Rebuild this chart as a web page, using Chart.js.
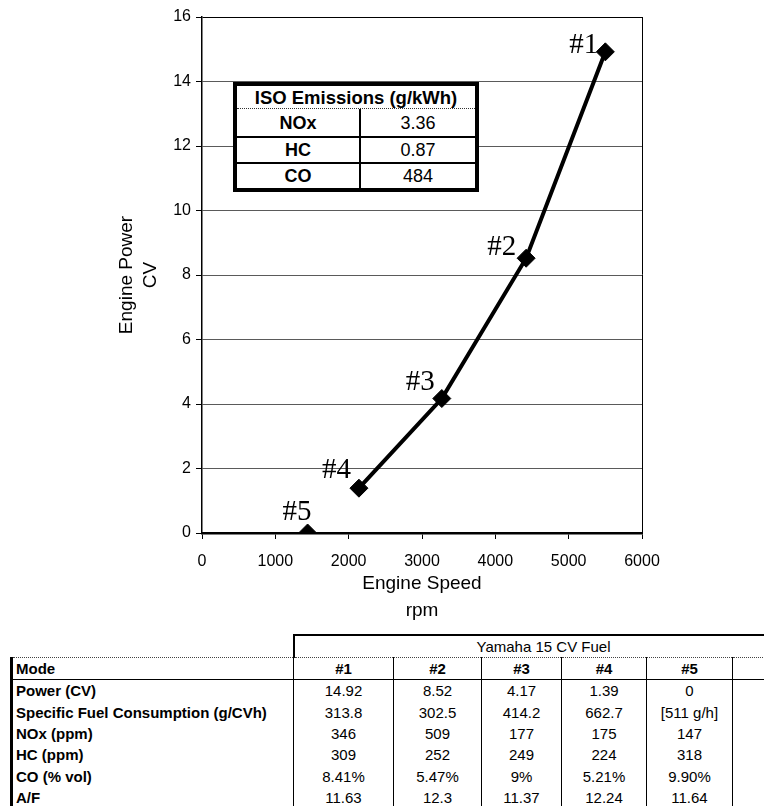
<!DOCTYPE html>
<html>
<head>
<meta charset="utf-8">
<title>Yamaha 15 CV – Engine Power vs Engine Speed</title>
<script src="https://cdn.jsdelivr.net/npm/chart.js@4.4.1/dist/chart.umd.min.js"></script>
<style>
  html, body { margin: 0; padding: 0; background: #fff; }
  #page { position: relative; width: 764px; height: 806px; overflow: hidden;
          font-family: "Liberation Sans", Arial, sans-serif; color: #000; }
  #chartBox { position: absolute; left: 0; top: 0; width: 764px; height: 630px; }

  /* ISO emissions inset */
  #iso { position: absolute; left: 233px; top: 82px; width: 246px; height: 110px;
         box-sizing: border-box; border: 4px solid #000; background: #fff; }
  #iso .head { height: 22px; line-height: 23px; border-bottom: 1px dotted #333;
               text-align: center; font-weight: bold; font-size: 18.5px; }
  #iso .row { display: flex; height: 24px; border-top: 2px solid #000; }
  #iso .row.first { height: 27px; border-top: none; }
  #iso .row div { text-align: center; font-size: 18px; line-height: 25px; }
  #iso .row.first div { line-height: 28px; }
  #iso .row .name { width: 122px; border-right: 2px solid #000; font-weight: bold; }
  #iso .row .val { flex: 1; }

  /* modes table */
  #modes { position: absolute; left: 10px; top: 634px; width: 781px; border-collapse: collapse;
           table-layout: fixed; font-size: 15px; }
  #modes td { padding: 0; text-align: center; white-space: nowrap; overflow: visible; }
  #modes tr.fuel td { height: 21px; }
  #modes tr.fuel td.title { border-top: 2px solid #000; border-left: 2px solid #000;
                            border-bottom: 1px dotted #444; }
  #modes tr.mode td { height: 21px; font-weight: bold; border-top: 1px dotted #444;
                      border-bottom: 1.5px solid #000; border-left: 1.5px solid #000; }
  #modes tr.data td { height: 21.4px; border-left: 1.5px solid #000; }
  #modes td.lbl { text-align: left; padding-left: 3px; font-weight: bold;
                  border-left: 3px solid #000 !important; }
</style>
</head>
<body>
<div id="page">
  <div id="chartBox"><canvas id="chart" width="764" height="630"></canvas></div>
  <div id="iso"></div>
  <table id="modes"></table>
</div>

<script>
// Operating modes of the test cycle
const modes = ['#1', '#2', '#3', '#4', '#5'];
const engineSpeed = [5500, 4420, 3270, 2140, 1440];   // rpm
const enginePower = [14.92, 8.52, 4.17, 1.39, 0];     // CV

// Axis ranges / ticks
const speedTicks = [0, 1000, 2000, 3000, 4000, 5000, 6000];
const powerTicks = [0, 2, 4, 6, 8, 10, 12, 14, 16];

// Weighted ISO emissions
const isoPollutants = ['NOx', 'HC', 'CO'];
const isoValues = ['3.36', '0.87', '484'];

// Per-mode measurements
const rowLabels = ['Power (CV)', 'Specific Fuel Consumption (g/CVh)', 'NOx (ppm)',
                   'HC (ppm)', 'CO (% vol)', 'A/F'];
const sfc = ['313.8', '302.5', '414.2', '662.7', '[511 g/h]'];
const noxPpm = ['346', '509', '177', '175', '147'];
const hcPpm = ['309', '252', '249', '224', '318'];
const coVol = ['8.41%', '5.47%', '9%', '5.21%', '9.90%'];
const airFuel = ['11.63', '12.3', '11.37', '12.24', '11.64'];

// Mode label placement next to each marker
const labelOffsets = [
  { dx: -7,  dy: 1,   align: 'right' },
  { dx: -10, dy: -3,  align: 'right' },
  { dx: -7,  dy: -9,  align: 'right' },
  { dx: -8,  dy: -10, align: 'right' },
  { dx: 4,   dy: -13, align: 'right' }
];

const modeLabels = {
  id: 'modeLabels',
  afterDatasetsDraw(chart) {
    const { ctx } = chart;
    const meta = chart.getDatasetMeta(0);
    ctx.save();
    ctx.font = '29px "Liberation Serif", "Times New Roman", serif';
    ctx.fillStyle = '#000';
    ctx.textBaseline = 'alphabetic';
    meta.data.forEach((pt, i) => {
      const o = labelOffsets[i];
      ctx.textAlign = o.align;
      ctx.fillText(modes[i], pt.x + o.dx, pt.y + o.dy);
    });
    ctx.restore();
  }
};

const tickFont = { family: '"Liberation Sans", Arial, sans-serif', size: 16 };
const titleFont = { family: '"Liberation Sans", Arial, sans-serif', size: 19 };

new Chart(document.getElementById('chart'), {
  type: 'scatter',
  data: {
    datasets: [{
      data: engineSpeed.map((x, i) => ({ x, y: enginePower[i] })),
      showLine: true,
      borderColor: '#000',
      borderWidth: 4,
      pointStyle: 'rectRot',
      pointRadius: 9,
      pointBackgroundColor: '#000',
      pointBorderColor: '#000',
      pointBorderWidth: 1,
      // idle mode (#5) is shown as a lone marker
      segment: {
        borderColor: c => c.p1DataIndex === modes.length - 1 ? 'rgba(0,0,0,0)' : '#000'
      }
    }]
  },
  options: {
    responsive: false,
    animation: false,
    devicePixelRatio: 1,
    layout: { padding: { left: 0, right: 122, top: 17, bottom: 0 } },
    plugins: { legend: { display: false }, tooltip: { enabled: false } },
    scales: {
      x: {
        type: 'linear',
        min: speedTicks[0],
        max: speedTicks[speedTicks.length - 1],
        afterBuildTicks: s => { s.ticks = speedTicks.map(v => ({ value: v })); },
        afterFit: s => { s.height = 97; },
        ticks: { font: tickFont, color: '#000', padding: 13, maxRotation: 0,
                 callback: v => String(v) },
        grid: {
          color: c => (c.tick && c.tick.value === 6000) ? '#000' : 'rgba(0,0,0,0)',
          tickColor: '#000', tickLength: 6, lineWidth: 1
        },
        border: { color: '#000', width: 2.5 },
        title: {
          display: true, text: ['Engine Speed', 'rpm'], color: '#000',
          font: { ...titleFont, lineHeight: 1.42 }, padding: { top: 0, bottom: 6 }
        }
      },
      y: {
        type: 'linear',
        min: powerTicks[0],
        max: powerTicks[powerTicks.length - 1],
        afterBuildTicks: s => { s.ticks = powerTicks.map(v => ({ value: v })); },
        afterFit: s => { s.width = 202; },
        ticks: { font: tickFont, color: '#000', padding: 5, callback: v => String(v) },
        grid: {
          color: c => (c.tick && c.tick.value === 16) ? '#000' : '#5a5a5a',
          tickColor: '#000', tickLength: 6, lineWidth: 1
        },
        border: { color: '#000', width: 1.5 },
        title: {
          display: true, text: ['Engine Power', 'CV'], color: '#000',
          font: { ...titleFont, lineHeight: 1.26 }, padding: { top: 115, bottom: 0 }
        }
      }
    }
  },
  plugins: [modeLabels]
});

// ISO emissions inset
(function () {
  const box = document.getElementById('iso');
  let html = '<div class="head">ISO Emissions (g/kWh)</div>';
  isoPollutants.forEach((p, i) => {
    html += '<div class="row' + (i === 0 ? ' first' : '') + '"><div class="name">' + p +
            '</div><div class="val">' + isoValues[i] + '</div></div>';
  });
  box.innerHTML = html;
})();

// Per-mode table
(function () {
  const t = document.getElementById('modes');
  const widths = [282, 100, 88, 80, 85, 86, 60];
  let html = '<colgroup>' + widths.map(w => '<col style="width:' + w + 'px">').join('') + '</colgroup>';
  html += '<tr class="fuel"><td></td><td class="title" colspan="6">Yamaha 15 CV Fuel</td></tr>';
  html += '<tr class="mode"><td class="lbl">Mode</td>' + modes.map(m => '<td>' + m + '</td>').join('') + '<td></td></tr>';
  const power = enginePower.map(v => String(v));
  const rows = [power, sfc, noxPpm, hcPpm, coVol, airFuel];
  rows.forEach((vals, r) => {
    html += '<tr class="data"><td class="lbl">' + rowLabels[r] + '</td>' +
            vals.map(v => '<td>' + v + '</td>').join('') + '<td></td></tr>';
  });
  t.innerHTML = html;
})();
</script>
</body>
</html>
